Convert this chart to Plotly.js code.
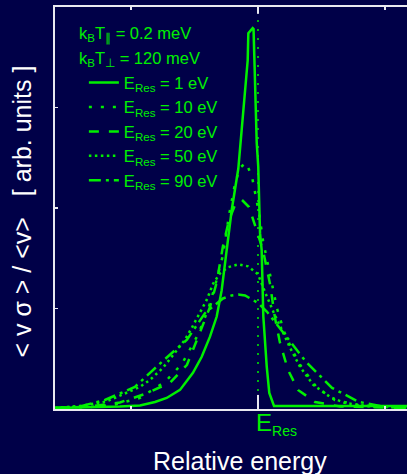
<!DOCTYPE html>
<html>
<head>
<meta charset="utf-8">
<script src="https://cdn.plot.ly/plotly-3.0.1.min.js"></script>
<style>
html, body { margin: 0; padding: 0; background: #000048; overflow: hidden; }
#chart { width: 407px; height: 474px; }
</style>
</head>
<body>
<div id="chart"></div>
<script>
// Relative energy (E - E_Res, in tick units) and <v sigma>/<v> (arb. units)
const relEnergy1 = [-1.598,-1.323,-1.087,-0.929,-0.811,-0.719,-0.614,-0.512,-0.443,-0.378,-0.325,-0.286,-0.246,-0.207,-0.155,-0.116,-0.081,-0.076,-0.042,-0.035,-0.024,-0.010,0.002,0.016,0.029,0.042,0.069,0.089,0.126,0.331,0.724,1.173];
const rate1 = [0.01,0.015,0.025,0.035,0.07,0.11,0.19,0.36,0.52,0.72,0.92,1.18,1.58,1.98,2.39,2.98,3.47,3.74,3.79,3.78,3.31,2.65,2.41,1.75,1.58,0.92,0.42,0.16,0.03,0.03,0.03,0.03];

const relEnergy10 = [-1.598,-1.323,-1.126,-0.929,-0.732,-0.598,-0.472,-0.394,-0.339,-0.276,-0.228,-0.181,-0.142,-0.094,-0.047,-0.016,0.008,0.039,0.079,0.114,0.150,0.205,0.268,0.331,0.465,0.606,0.803,1.173];
const rate10 = [0.01,0.02,0.045,0.11,0.27,0.45,0.74,0.985,1.22,1.53,1.93,2.24,2.40,2.45,2.31,2.11,1.95,1.68,1.45,1.22,1.00,0.77,0.59,0.44,0.21,0.09,0.035,0.015];

const relEnergy20 = [-1.598,-1.323,-1.087,-0.890,-0.693,-0.559,-0.480,-0.417,-0.378,-0.325,-0.276,-0.228,-0.181,-0.126,-0.071,-0.024,0.039,0.094,0.134,0.173,0.236,0.315,0.449,0.646,1.173];
const rate20 = [0.01,0.025,0.065,0.15,0.26,0.44,0.69,0.89,1.015,1.26,1.62,1.88,2.03,2.08,2.01,1.83,1.58,1.25,0.905,0.66,0.39,0.19,0.07,0.025,0.01];

const relEnergy50 = [-1.598,-1.402,-1.191,-1.073,-0.929,-0.850,-0.748,-0.654,-0.575,-0.520,-0.457,-0.404,-0.352,-0.299,-0.236,-0.155,-0.079,0.0,0.063,0.120,0.187,0.252,0.331,0.435,0.567,0.685,0.882,1.173];
const rate50 = [0.01,0.03,0.075,0.14,0.22,0.29,0.41,0.56,0.69,0.81,0.955,1.085,1.25,1.35,1.41,1.44,1.42,1.34,1.14,0.97,0.79,0.61,0.42,0.24,0.12,0.06,0.025,0.01];

const relEnergy90 = [-1.598,-1.402,-1.205,-0.969,-0.756,-0.559,-0.417,-0.339,-0.276,-0.207,-0.155,-0.102,-0.063,0.0,0.069,0.197,0.378,0.583,0.795,0.961,1.173];
const rate90 = [0.01,0.025,0.09,0.22,0.47,0.69,0.955,1.035,1.10,1.13,1.14,1.13,1.10,1.055,0.97,0.76,0.47,0.21,0.07,0.03,0.015];

const seriesNames = ['E<sub>Res</sub> = 1 eV','E<sub>Res</sub> = 10 eV','E<sub>Res</sub> = 20 eV','E<sub>Res</sub> = 50 eV','E<sub>Res</sub> = 90 eV'];
const resonanceEnergy = 0;
const xTickVals = [-1, 0, 1];
const yTickVals = [1, 2, 3];

const GREEN = '#00f000';
const AXIS = '#e8e8f0';
const dashes = ['solid', '3px,9px', '10px,10px', '2.5px,3.5px', '12px,5px,3px,5px'];
const xs = [relEnergy1, relEnergy10, relEnergy20, relEnergy50, relEnergy90];
const ys = [rate1, rate10, rate20, rate50, rate90];

const traces = xs.map((x, i) => ({
  x: x, y: ys[i], type: 'scatter', mode: 'lines', name: seriesNames[i],
  line: { color: GREEN, width: 2.5, dash: dashes[i] }, hoverinfo: 'skip'
}));

const font = 'Liberation Sans, Arial, sans-serif';
const layout = {
  width: 407, height: 474,
  margin: { l: 55, r: 0, t: 7, b: 65 },
  paper_bgcolor: '#000048', plot_bgcolor: '#000048',
  font: { family: font, color: GREEN },
  showlegend: true,
  legend: {
    x: 0.082, y: 0.855, xanchor: 'left', yanchor: 'top',
    bgcolor: 'rgba(0,0,0,0)', borderwidth: 0,
    font: { family: font, size: 16.5, color: GREEN },
    itemwidth: 30
  },
  xaxis: {
    range: [-1.598, 1.173], showgrid: false, zeroline: false,
    showline: true, linecolor: AXIS, linewidth: 2, mirror: 'ticks',
    ticks: 'inside', ticklen: 3, tickwidth: 1.5, tickcolor: AXIS,
    tickvals: xTickVals, showticklabels: false, fixedrange: true
  },
  yaxis: {
    range: [0, 4.0], showgrid: false, zeroline: false,
    showline: true, linecolor: AXIS, linewidth: 2,
    ticks: 'inside', ticklen: 3, tickwidth: 1.5, tickcolor: AXIS,
    tickvals: yTickVals, showticklabels: false, fixedrange: true
  },
  shapes: [
    { type: 'line', xref: 'x', yref: 'paper', x0: resonanceEnergy, x1: resonanceEnergy, y0: 0, y1: 1,
      line: { color: GREEN, width: 1.5, dash: '2px,7px' } },
    { type: 'line', xref: 'x', yref: 'paper', x0: resonanceEnergy, x1: resonanceEnergy, y0: 0, y1: 0.035,
      line: { color: AXIS, width: 2 } },
    { type: 'line', xref: 'x', yref: 'paper', x0: resonanceEnergy, x1: resonanceEnergy, y0: 0.983, y1: 1,
      line: { color: AXIS, width: 2 } }
  ],
  annotations: [
    { xref: 'paper', yref: 'paper', x: 0.063, y: 0.932, xanchor: 'left', yanchor: 'middle', showarrow: false,
      text: 'k<sub>B</sub>T<sub>\u2225</sub> = 0.2 meV', font: { family: font, size: 16.5, color: GREEN } },
    { xref: 'paper', yref: 'paper', x: 0.063, y: 0.871, xanchor: 'left', yanchor: 'middle', showarrow: false,
      text: 'k<sub>B</sub>T<sub>\u22A5</sub> = 120 meV', font: { family: font, size: 16.5, color: GREEN } },
    { xref: 'x', yref: 'paper', x: resonanceEnergy, y: 0, xanchor: 'left', yanchor: 'top', yshift: 2, xshift: -4, showarrow: false,
      text: 'E<sub><span style="font-size:14px">Res</span></sub>', font: { family: font, size: 24, color: GREEN } },
    { xref: 'paper', yref: 'paper', x: 0.525, y: -0.13, xanchor: 'center', yanchor: 'middle', showarrow: false,
      text: 'Relative energy', font: { family: font, size: 25, color: '#ffffff' } },
    { xref: 'paper', yref: 'paper', x: -0.095, y: 0.49, xanchor: 'center', yanchor: 'middle', showarrow: false, textangle: -90,
      text: '&lt; v \u03C3 &gt; / &lt;v&gt;\u00a0\u00a0\u00a0[ arb. units ]', font: { family: font, size: 25, color: '#ffffff' } }
  ]
};

Plotly.newPlot('chart', traces, layout, { displayModeBar: false, staticPlot: true });
</script>
</body>
</html>
